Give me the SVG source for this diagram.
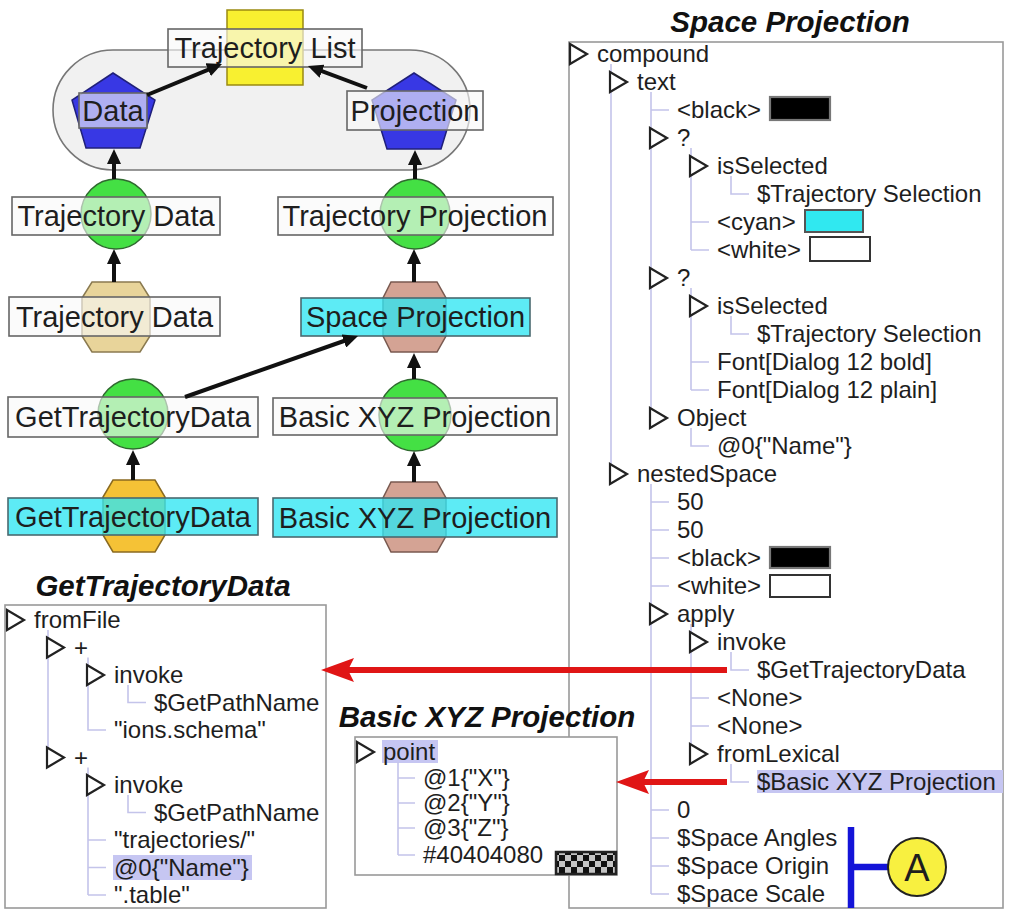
<svg xmlns="http://www.w3.org/2000/svg" width="1014" height="918" viewBox="0 0 1014 918">
<style>
text{font-family:'Liberation Sans',Arial,Helvetica,sans-serif;fill:#1e1e1e}
.lbl{font-size:29px;text-anchor:middle}
.t{font-size:24px}
.ttl{font-size:29.5px;font-weight:bold;font-style:italic;text-anchor:middle;fill:#111}
.box{fill:#f8f8f8;fill-opacity:0.62;stroke:#666;stroke-width:1.6}
.cbox{fill:#30e6f2;fill-opacity:0.78;stroke:#4a6a70;stroke-width:1.6}
.circ{fill:#44e044;stroke:#2f6a2f;stroke-width:1.5}
.pent{fill:#3838e4;stroke:#20207a;stroke-width:1.5}
.hexr{fill:#d4a394;stroke:#7a5a50;stroke-width:1.5}
.edge{stroke:#111;stroke-width:4;fill:none;marker-end:url(#ah)}
.red{stroke:#e01515;stroke-width:6;fill:none;marker-end:url(#rh)}
.tri{fill:#fff;stroke:#222;stroke-width:2.2;stroke-linejoin:miter}
.gl{stroke:#c4c4ea;stroke-width:1.6;fill:none}
.panel{fill:#fff;stroke:#999;stroke-width:1.6}
.hl{fill:#c6c6f2}
</style>
<defs>
<marker id="ah" markerUnits="userSpaceOnUse" markerWidth="16" markerHeight="14" refX="3" refY="7" orient="auto"><path d="M0,0 L15,7 L0,14 Z" fill="#111"/></marker>
<marker id="rh" markerUnits="userSpaceOnUse" markerWidth="34" markerHeight="24" refX="6" refY="12" orient="auto"><path d="M0,0 L33,12 L0,24 L6,12 Z" fill="#e01515"/></marker>
<pattern id="chk" patternUnits="userSpaceOnUse" x="559" y="855" width="12" height="12"><rect width="12" height="12" fill="#c4c4c4"/><rect width="6" height="6" fill="#111"/><rect x="6" y="6" width="6" height="6" fill="#111"/></pattern>
</defs>

<!-- graph nodes -->
<g id="container"><rect x="53" y="50" width="417" height="120" rx="60" ry="60" fill="#f1f1f1" stroke="#777" stroke-width="1.6"/></g>
<g id="trajectory-list"><rect x="227" y="10" width="76" height="75" fill="#f8f030" stroke="#9a8a10" stroke-width="1.5"/><rect class="box" x="168" y="29" width="194" height="38"/><text class="lbl" x="265" y="58">Trajectory List</text></g>
<g id="data"><polygon class="pent" points="113,73 155,100 140,148 86,148 72,100"/><rect class="box" x="79" y="93" width="68" height="35"/><text class="lbl" x="113" y="121">Data</text></g>
<g id="projection"><polygon class="pent" points="414,73 456,100 441,149 387,149 372,100"/><rect class="box" x="347" y="91" width="136" height="39"/><text class="lbl" x="415" y="121">Projection</text></g>
<g id="trajectory-data-op"><circle class="circ" cx="116" cy="214" r="35"/><rect class="box" x="12" y="197" width="208" height="38"/><text class="lbl" x="116" y="226">Trajectory Data</text></g>
<g id="trajectory-projection-op"><circle class="circ" cx="415" cy="214" r="35"/><rect class="box" x="278" y="197" width="275" height="38"/><text class="lbl" x="415" y="226">Trajectory Projection</text></g>
<g id="trajectory-data-val"><polygon points="92,282 140,282 150,298 150,336 140,352 92,352 82,336 82,298" fill="#e8d49a" stroke="#8a7a50" stroke-width="1.5"/><rect class="box" x="9" y="297" width="211" height="39"/><text class="lbl" x="114.5" y="327">Trajectory Data</text></g>
<g id="space-projection-val"><polygon class="hexr" points="391,282 437,282 446,298 446,336 437,352 391,352 383,336 383,298"/><rect class="cbox" x="301" y="298" width="229" height="38"/><text class="lbl" x="415.5" y="327">Space Projection</text></g>
<g id="get-trajectory-data-op"><circle class="circ" cx="133" cy="414" r="35"/><rect class="box" x="8" y="397" width="250" height="40"/><text class="lbl" x="133" y="427">GetTrajectoryData</text></g>
<g id="basic-xyz-op"><circle class="circ" cx="415" cy="415" r="36"/><rect class="box" x="273" y="398" width="284" height="37"/><text class="lbl" x="415" y="427">Basic XYZ Projection</text></g>
<g id="get-trajectory-data-val"><polygon points="113,480 155,480 165,497 165,535 155,552 113,552 103,535 103,497" fill="#f5c236" stroke="#8a6a20" stroke-width="1.5"/><rect class="cbox" x="8" y="498" width="250" height="37"/><text class="lbl" x="133" y="527">GetTrajectoryData</text></g>
<g id="basic-xyz-val"><polygon class="hexr" points="391,482 437,482 446,498 446,536 437,552 391,552 383,536 383,498"/><rect class="cbox" x="273" y="498" width="284" height="39"/><text class="lbl" x="415" y="528">Basic XYZ Projection</text></g>

<!-- Space Projection panel -->
<g id="space-projection-panel">
<text class="ttl" x="790" y="32">Space Projection</text>
<rect class="panel" x="569" y="42" width="434" height="866"/>
<rect class="hl" x="757" y="770" width="246" height="23"/>
<path class="gl" d="M611,64V474 M651,92V418 M651,110H669 M691,148V250 M691,222H709 M691,250H709 M731,176V194H749 M691,288V390 M691,362H709 M691,390H709 M731,316V334H749 M691,428V446H709 M651,484V894 M651,502H669 M651,530H669 M651,558H669 M651,586H669 M651,810H669 M651,838H669 M651,866H669 M651,894H669 M691,624V754 M691,698H709 M691,726H709 M731,652V670H749 M731,764V782H749"/>
<path class="tri" d="M570,44L587,54L570,64Z M610,72L627,82L610,92Z M650,128L667,138L650,148Z M690,156L707,166L690,176Z M650,268L667,278L650,288Z M690,296L707,306L690,316Z M650,408L667,418L650,428Z M610,464L627,474L610,484Z M650,604L667,614L650,624Z M690,632L707,642L690,652Z M690,744L707,754L690,764Z"/>
<text class="t" x="597" y="62">compound</text>
<text class="t" x="637" y="90">text</text>
<text class="t" x="677" y="118">&lt;black&gt;</text>
<rect x="770" y="97" width="60" height="23" fill="#000" stroke="#777" stroke-width="2.2"/>
<text class="t" x="677" y="146">?</text>
<text class="t" x="717" y="174">isSelected</text>
<text class="t" x="757" y="202">$Trajectory Selection</text>
<text class="t" x="717" y="230">&lt;cyan&gt;</text>
<rect x="805" y="210" width="58" height="22" fill="#30e8f0" stroke="#555" stroke-width="2"/>
<text class="t" x="717" y="258">&lt;white&gt;</text>
<rect x="810" y="237" width="60" height="24" fill="#fff" stroke="#333" stroke-width="2"/>
<text class="t" x="677" y="286">?</text>
<text class="t" x="717" y="314">isSelected</text>
<text class="t" x="757" y="342">$Trajectory Selection</text>
<text class="t" x="717" y="370">Font[Dialog 12 bold]</text>
<text class="t" x="717" y="398">Font[Dialog 12 plain]</text>
<text class="t" x="677" y="426">Object</text>
<text class="t" x="717" y="454">@0{"Name"}</text>
<text class="t" x="637" y="482">nestedSpace</text>
<text class="t" x="677" y="510">50</text>
<text class="t" x="677" y="538">50</text>
<text class="t" x="677" y="566">&lt;black&gt;</text>
<rect x="770" y="547" width="60" height="21" fill="#000" stroke="#777" stroke-width="2.2"/>
<text class="t" x="677" y="594">&lt;white&gt;</text>
<rect x="770" y="575" width="60" height="22" fill="#fff" stroke="#333" stroke-width="2"/>
<text class="t" x="677" y="622">apply</text>
<text class="t" x="717" y="650">invoke</text>
<text class="t" x="757" y="678">$GetTrajectoryData</text>
<text class="t" x="717" y="706">&lt;None&gt;</text>
<text class="t" x="717" y="734">&lt;None&gt;</text>
<text class="t" x="717" y="762">fromLexical</text>
<text class="t" x="757" y="790">$Basic XYZ Projection</text>
<text class="t" x="677" y="818">0</text>
<text class="t" x="677" y="846">$Space Angles</text>
<text class="t" x="677" y="874">$Space Origin</text>
<text class="t" x="677" y="902">$Space Scale</text>
</g>

<!-- GetTrajectoryData panel -->
<g id="get-trajectory-data-panel">
<text class="ttl" x="163" y="596">GetTrajectoryData</text>
<rect class="panel" x="5" y="605" width="321" height="303"/>
<rect class="hl" x="113" y="855" width="139" height="25"/>
<path class="gl" d="M48,630V757.5 M88,657.5V730H106 M128,685V702.5H146 M88,767.5V895 M88,840H106 M88,867.5H106 M88,895H106 M128,795V812.5H146"/>
<path class="tri" d="M7,610L24,620L7,630Z M47,637.5L64,647.5L47,657.5Z M87,665L104,675L87,685Z M47,747.5L64,757.5L47,767.5Z M87,775L104,785L87,795Z"/>
<text class="t" x="34" y="628">fromFile</text>
<text class="t" x="74" y="655.5">+</text>
<text class="t" x="114" y="683">invoke</text>
<text class="t" x="154" y="710.5">$GetPathName</text>
<text class="t" x="114" y="738">"ions.schema"</text>
<text class="t" x="74" y="765.5">+</text>
<text class="t" x="114" y="793">invoke</text>
<text class="t" x="154" y="820.5">$GetPathName</text>
<text class="t" x="114" y="848">"trajectories/"</text>
<text class="t" x="114" y="875.5">@0{"Name"}</text>
<text class="t" x="114" y="903">".table"</text>
</g>

<!-- Basic XYZ Projection panel -->
<g id="basic-xyz-panel">
<text class="ttl" x="487" y="727">Basic XYZ Projection</text>
<rect class="panel" x="355" y="737" width="262" height="138"/>
<rect class="hl" x="382" y="740" width="56" height="23"/>
<path class="gl" d="M398,762V855 M398,778H415 M398,803H415 M398,828H415 M398,855H415"/>
<path class="tri" d="M357,742L374,752L357,762Z"/>
<text class="t" x="383" y="760">point</text>
<text class="t" x="423" y="786">@1{"X"}</text>
<text class="t" x="423" y="811">@2{"Y"}</text>
<text class="t" x="423" y="836">@3{"Z"}</text>
<text class="t" x="423" y="863">#40404080</text>
<rect x="556" y="852" width="60" height="22" fill="url(#chk)" stroke="#222" stroke-width="2.5"/>
</g>

<!-- connectors -->
<g id="connectors">
<line class="edge" x1="147" y1="95" x2="210.9" y2="68.6"/>
<line class="edge" x1="367" y1="88" x2="319.2" y2="70.2"/>
<line class="edge" x1="114" y1="179" x2="114" y2="161"/>
<line class="edge" x1="415" y1="179" x2="415" y2="162"/>
<line class="edge" x1="114" y1="282" x2="114" y2="261"/>
<line class="edge" x1="414" y1="282" x2="414" y2="261"/>
<line class="edge" x1="185" y1="397" x2="346.7" y2="340"/>
<line class="edge" x1="414" y1="379" x2="414" y2="365"/>
<line class="edge" x1="133" y1="480" x2="133" y2="462"/>
<line class="edge" x1="414" y1="482" x2="414" y2="463"/>
<line class="red" x1="727" y1="670" x2="348" y2="670"/>
<line class="red" x1="727" y1="782" x2="643" y2="782"/>
<path d="M851,827 V908 M851,867 H890" stroke="#1414d8" stroke-width="6.5" fill="none"/>
</g>

<g id="badge-a"><circle cx="917" cy="867" r="29" fill="#f8f040" stroke="#222" stroke-width="2"/><text x="917" y="881" font-size="38" text-anchor="middle">A</text></g>
</svg>
